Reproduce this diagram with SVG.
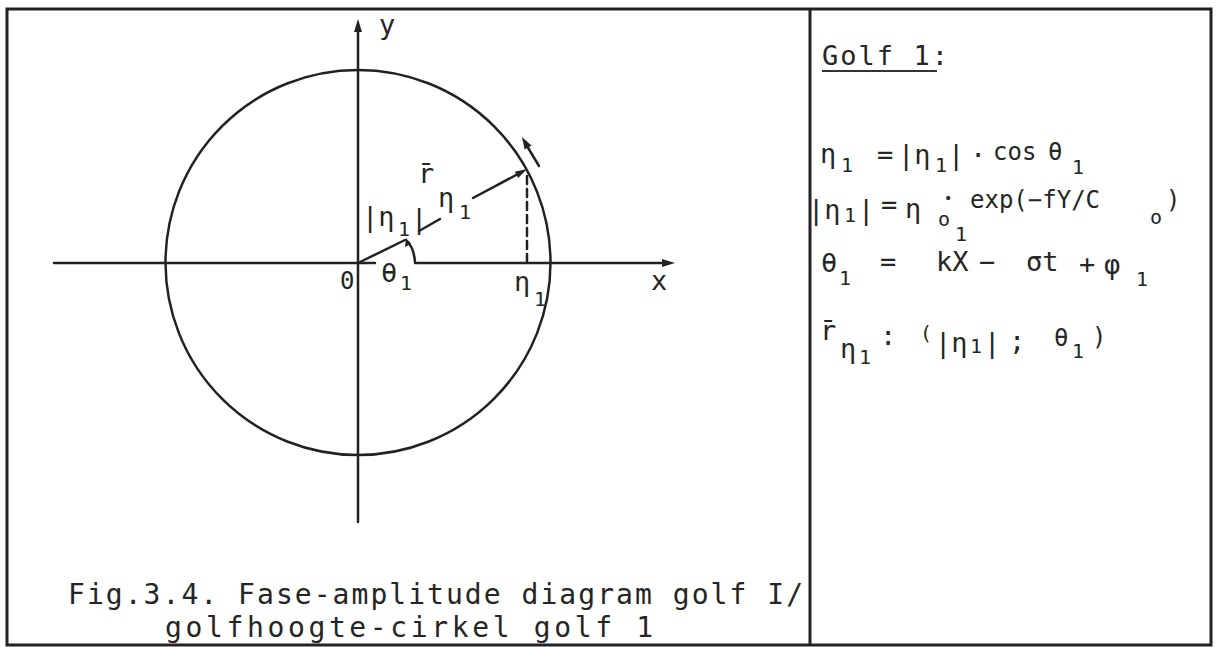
<svg xmlns="http://www.w3.org/2000/svg" width="1218" height="647" viewBox="0 0 1218 647">
<style>
.t{font-family:"DejaVu Sans Mono","Liberation Mono",monospace;font-size:27px;fill:#252525}
.s{font-size:20px}
.m{font-size:24px}
.c{font-size:28px}
.d{font-size:14px}
.ln{stroke:#222;stroke-width:2.5;fill:none;stroke-linecap:round}
.hd{fill:#222;stroke:none}
</style>
<rect x="0" y="0" width="1218" height="647" fill="#fff"/>
<g id="frame">
<rect x="7" y="9" width="1204" height="636" fill="none" stroke="#222" stroke-width="3"/>
<line x1="810" y1="9" x2="810" y2="645" stroke="#222" stroke-width="3"/>
</g>
<g id="circle">
<circle cx="358" cy="262.5" r="192.5" class="ln"/>
</g>
<g id="connectors">
<line class="ln" x1="358" y1="522" x2="358" y2="28"/>
<polygon class="hd" points="358,19 354,32 362,32"/>
<line class="ln" x1="54" y1="263" x2="375" y2="263"/>
<line class="ln" x1="415" y1="263" x2="666" y2="263"/>
<polygon class="hd" points="675,263 662,259 662,267"/>
<line class="ln" x1="358" y1="263" x2="405" y2="240"/>
<line class="ln" x1="419" y1="231" x2="440" y2="219"/>
<line class="ln" x1="473" y1="198" x2="518" y2="174"/>
<polygon class="hd" points="527,169 518.2,177.9 514.8,171.7"/>
<line class="ln" x1="527" y1="176" x2="527" y2="263" stroke-dasharray="8 5"/>
<line class="ln" x1="539" y1="166" x2="527" y2="146"/>
<polygon class="hd" points="522,137 531.5,145.4 524.6,149.4"/>
<path class="ln" d="M415,262 Q414,249 408,242" stroke-width="2"/>
<polygon class="hd" points="406,238 405,247 411,244"/>
</g>
<g id="axis-labels">
<text class="t" x="379" y="34">y</text>
<text class="t" x="651" y="290">x</text>
<text class="t m" x="340" y="289">0</text>
<text class="t" x="381" y="282">θ</text>
<text class="t s" x="400" y="290">1</text>
<text class="t" x="514" y="291">η</text>
<text class="t s" x="534" y="306">1</text>
</g>
<g id="vector-labels">
<text class="t" x="418" y="183">r̄</text>
<text class="t" x="438" y="207">η</text>
<text class="t s" x="459" y="219">1</text>
<text class="t" x="362" y="226">|η</text>
<text class="t s" x="398" y="236">1</text>
<text class="t" x="411" y="228">|</text>
</g>
<g id="caption">
<text class="t c" x="68" y="604" textLength="735" lengthAdjust="spacing">Fig.3.4. Fase-amplitude diagram golf I/</text>
<text class="t c" x="165" y="637" textLength="488" lengthAdjust="spacing">golfhoogte-cirkel golf 1</text>
</g>
<g id="legend">
<text class="t" x="822" y="65" textLength="126" lengthAdjust="spacing">Golf 1:</text>
<line x1="822" y1="71" x2="937" y2="71" stroke="#333" stroke-width="2"/>
<g id="eq1">
<text class="t" x="820" y="163">η</text>
<text class="t s" x="841" y="172">1</text>
<text class="t" x="877" y="164">=</text>
<text class="t" x="898" y="164">|η</text>
<text class="t s" x="935" y="172">1</text>
<text class="t" x="948" y="164">|</text>
<text class="t" x="970" y="164">·</text>
<text class="t m" x="993" y="160">cos</text>
<text class="t m" x="1048" y="160">θ</text>
<text class="t s" x="1072" y="174">1</text>
</g>
<g id="eq2">
<text class="t" x="808" y="219">|η</text>
<text class="t s" x="844" y="222">1</text>
<text class="t" x="858" y="219">|</text>
<text class="t" x="881" y="214">=</text>
<text class="t" x="905" y="218">η</text>
<text class="t s" x="938" y="226">o</text>
<text class="t d" x="944" y="203">•</text>
<text class="t s" x="955" y="241">1</text>
<text class="t m" x="970" y="208">exp(−fY/C</text>
<text class="t s" x="1150" y="224">o</text>
<text class="t m" x="1166" y="208">)</text>
</g>
<g id="eq3">
<text class="t" x="821" y="272">θ</text>
<text class="t s" x="839" y="285">1</text>
<text class="t" x="880" y="271">=</text>
<text class="t" x="936" y="271">kX</text>
<text class="t" x="979" y="271">−</text>
<text class="t" x="1026" y="271">σt</text>
<text class="t" x="1079" y="273">+</text>
<text class="t" x="1104" y="274">φ</text>
<text class="t s" x="1136" y="286">1</text>
</g>
<g id="eq4">
<text class="t" x="820" y="340">r̄</text>
<text class="t" x="840" y="358">η</text>
<text class="t s" x="859" y="364">1</text>
<text class="t" x="880" y="345">:</text>
<text class="t s" x="920" y="340">(</text>
<text class="t" x="935" y="352">|η</text>
<text class="t s" x="970" y="353">1</text>
<text class="t" x="984" y="352">|</text>
<text class="t" x="1009" y="350">;</text>
<text class="t m" x="1054" y="346">θ</text>
<text class="t s" x="1072" y="358">1</text>
<text class="t m" x="1092" y="345">)</text>
</g>
</g>
</svg>
